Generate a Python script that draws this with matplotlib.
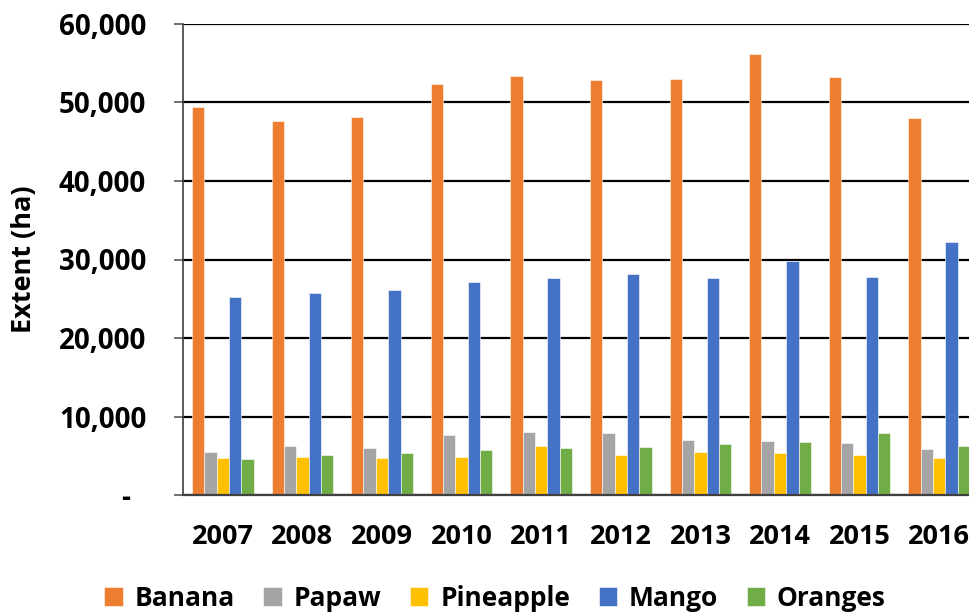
import numpy as np
import matplotlib
matplotlib.use("Agg")
import matplotlib.pyplot as plt
from matplotlib.ticker import FuncFormatter

years = ["2007", "2008", "2009", "2010", "2011", "2012", "2013", "2014", "2015", "2016"]
banana = [49400, 47700, 48100, 52400, 53400, 52900, 53000, 56200, 53250, 48000]
papaw = [5500, 6250, 6050, 7650, 8050, 7900, 7000, 6900, 6650, 5900]
pineapple = [4750, 4900, 4750, 4900, 6250, 5100, 5500, 5350, 5100, 4750]
mango = [25250, 25750, 26100, 27150, 27650, 28100, 27650, 29750, 27800, 32200]
oranges = [4550, 5100, 5300, 5750, 6050, 6150, 6450, 6700, 7850, 6300]

series = [("Banana", banana, "#ED7D31"),
          ("Papaw", papaw, "#A5A5A5"),
          ("Pineapple", pineapple, "#FFC000"),
          ("Mango", mango, "#4472C4"),
          ("Oranges", oranges, "#70AD47")]

plt.rcParams['font.family'] = ['Open Sans', 'DejaVu Sans']
plt.rcParams['font.weight'] = 'bold'

fig = plt.figure(figsize=(9.7, 6.14), dpi=100)
ax = fig.add_axes([183/970, 119/614, 796/970, 471/614])

x = np.arange(len(years)) + 0.5
w = 0.155
for k, (name, vals, col) in enumerate(series):
    ax.bar(x + (k - 2) * w, vals, width=w, color=col, label=name,
           edgecolor="white", linewidth=0.4, zorder=3)

ax.set_xlim(0, len(years))
ax.set_ylim(0, 60000)
ax.set_yticks(np.arange(0, 60001, 10000))
ax.yaxis.set_major_formatter(FuncFormatter(lambda v, p: "-" if v == 0 else f"{int(v):,}"))
ax.grid(axis="y", color="black", linewidth=1.6, zorder=1)
ax.set_xticks(x)
ax.set_xticklabels(years)

for s in ["top", "right"]:
    ax.spines[s].set_visible(False)
ax.spines["left"].set_color("#404040")
ax.spines["left"].set_linewidth(1.2)
ax.spines["bottom"].set_color("#404040")
ax.spines["bottom"].set_linewidth(1.6)
ax.spines["bottom"].set_zorder(4)

ax.tick_params(axis="y", direction="out", length=6.5, width=1.2, color="#595959",
               pad=20, labelsize=20)
ax.tick_params(axis="x", length=0, pad=21, labelsize=19.5)
for lab in ax.get_yticklabels() + ax.get_xticklabels():
    lab.set_fontweight("bold")
ax.get_yticklabels()[0].set_x(-0.02)

ax.set_ylabel("Extent (ha)", fontsize=19.5, fontweight="bold")
ax.yaxis.set_label_coords(-0.184, 0.5)

fig.legend(loc="center", bbox_to_anchor=(495/970, 1 - 598/614), ncol=5,
           frameon=False, handlelength=0.7, handleheight=0.7,
           handletextpad=0.45, columnspacing=1.08, prop={"weight": "bold", "size": 19})

fig.savefig("out.png", dpi=100)
